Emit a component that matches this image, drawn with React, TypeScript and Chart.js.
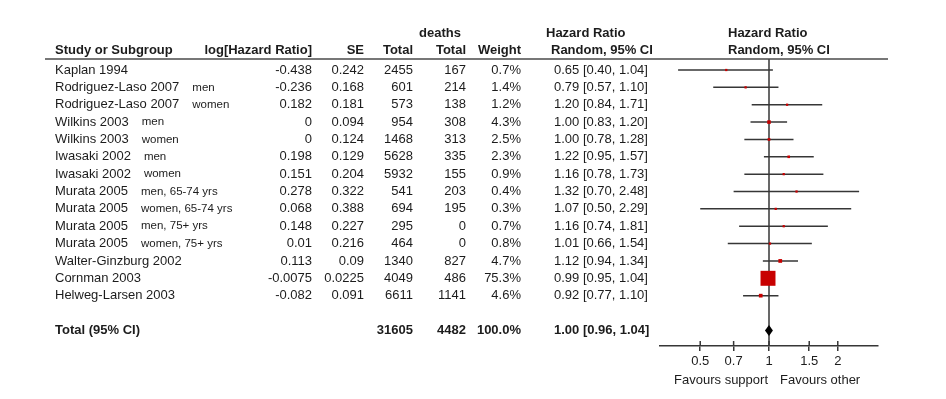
import React, { useEffect, useRef } from "react";
import { Chart, registerables } from "chart.js";

Chart.register(...registerables);

const studies = [
  "Kaplan 1994",
  "Rodriguez-Laso 2007",
  "Rodriguez-Laso 2007",
  "Wilkins 2003",
  "Wilkins 2003",
  "Iwasaki 2002",
  "Iwasaki 2002",
  "Murata 2005",
  "Murata 2005",
  "Murata 2005",
  "Murata 2005",
  "Walter-Ginzburg 2002",
  "Cornman 2003",
  "Helweg-Larsen 2003",
];
const subgroups = ["", "men", "women", "men", "women", "men", "women", "men, 65-74 yrs", "women, 65-74 yrs", "men, 75+ yrs", "women, 75+ yrs", "", "", ""];
const logHR = ["-0.438", "-0.236", "0.182", "0", "0", "0.198", "0.151", "0.278", "0.068", "0.148", "0.01", "0.113", "-0.0075", "-0.082"];
const seValues = ["0.242", "0.168", "0.181", "0.094", "0.124", "0.129", "0.204", "0.322", "0.388", "0.227", "0.216", "0.09", "0.0225", "0.091"];
const totals = [2455, 601, 573, 954, 1468, 5628, 5932, 541, 694, 295, 464, 1340, 4049, 6611];
const deaths = [167, 214, 138, 308, 313, 335, 155, 203, 195, 0, 0, 827, 486, 1141];
const weights = [0.7, 1.4, 1.2, 4.3, 2.5, 2.3, 0.9, 0.4, 0.3, 0.7, 0.8, 4.7, 75.3, 4.6];
const hr = [0.65, 0.79, 1.2, 1.0, 1.0, 1.22, 1.16, 1.32, 1.07, 1.16, 1.01, 1.12, 0.99, 0.92];
const ciLow = [0.4, 0.57, 0.84, 0.83, 0.78, 0.95, 0.78, 0.7, 0.5, 0.74, 0.66, 0.94, 0.95, 0.77];
const ciHigh = [1.04, 1.1, 1.71, 1.2, 1.28, 1.57, 1.73, 2.48, 2.29, 1.81, 1.54, 1.34, 1.04, 1.1];

const totalLabel = "Total (95% CI)";
const totalN = 31605;
const totalDeaths = 4482;
const totalWeight = 100.0;
const totalHR = 1.0;
const totalLow = 0.96;
const totalHigh = 1.04;
const totalRow = 15;

const xTicks = [0.5, 0.7, 1, 1.5, 2];
const xMin = 1 / 3;
const xMax = 3;
const favourLeft = "Favours support";
const favourRight = "Favours other";

const FONT = '"Liberation Sans", Arial, Helvetica, sans-serif';
const TEXT = "#1c1c1c";
const LINE = "#363636";
const RED = "#c80000";

const fmt2 = (v: number) => v.toFixed(2);
const hrText = (e: number, l: number, h: number) => `${fmt2(e)} [${fmt2(l)}, ${fmt2(h)}]`;

const forestPlugin = {
  id: "forestTable",
  beforeDatasetsDraw(chart: any) {
    const { ctx, chartArea, scales } = chart;
    const x1 = scales.x.getPixelForValue(1);
    ctx.save();
    ctx.strokeStyle = LINE;
    ctx.lineWidth = 1.5;
    ctx.beginPath();
    ctx.moveTo(x1, chartArea.top);
    ctx.lineTo(x1, chartArea.bottom);
    ctx.stroke();
    ctx.restore();
  },
  afterDraw(chart: any) {
    const { ctx, chartArea, scales } = chart;
    const xs = scales.x;
    const ys = scales.y;
    ctx.save();
    ctx.fillStyle = TEXT;
    ctx.textBaseline = "middle";

    // header
    ctx.font = `bold 13px ${FONT}`;
    ctx.textAlign = "left";
    ctx.fillText("deaths", 419, 33);
    ctx.fillText("Hazard Ratio", 546, 33);
    ctx.fillText("Random, 95% CI", 551, 50);
    ctx.fillText("Hazard Ratio", 728, 33);
    ctx.fillText("Random, 95% CI", 728, 50);
    ctx.fillText("Study or Subgroup", 55, 50);
    ctx.textAlign = "right";
    ctx.fillText("log[Hazard Ratio]", 312, 50);
    ctx.fillText("SE", 364, 50);
    ctx.fillText("Total", 413, 50);
    ctx.fillText("Total", 466, 50);
    ctx.fillText("Weight", 521, 50);

    // header rule
    ctx.strokeStyle = "#4a4a4a";
    ctx.lineWidth = 1.5;
    ctx.beginPath();
    ctx.moveTo(45, chartArea.top);
    ctx.lineTo(888, chartArea.top);
    ctx.stroke();

    // rows
    studies.forEach((name, i) => {
      const y = ys.getPixelForValue(i);
      ctx.font = `13px ${FONT}`;
      ctx.textAlign = "left";
      ctx.fillText(name, 55, y);
      const w = ctx.measureText(name).width;
      ctx.fillText(hrText(hr[i], ciLow[i], ciHigh[i]), 554, y);
      ctx.textAlign = "right";
      ctx.fillText(logHR[i], 312, y);
      ctx.fillText(seValues[i], 364, y);
      ctx.fillText(String(totals[i]), 413, y);
      ctx.fillText(String(deaths[i]), 466, y);
      ctx.fillText(weights[i].toFixed(1) + "%", 521, y);
      if (subgroups[i]) {
        ctx.font = `11.5px ${FONT}`;
        ctx.textAlign = "left";
        ctx.fillText(subgroups[i], 55 + w + 13, y);
      }
    });

    // total row
    const yt = ys.getPixelForValue(totalRow);
    ctx.font = `bold 13px ${FONT}`;
    ctx.textAlign = "left";
    ctx.fillText(totalLabel, 55, yt);
    ctx.fillText(hrText(totalHR, totalLow, totalHigh), 554, yt);
    ctx.textAlign = "right";
    ctx.fillText(String(totalN), 413, yt);
    ctx.fillText(String(totalDeaths), 466, yt);
    ctx.fillText(totalWeight.toFixed(1) + "%", 521, yt);

    // diamond
    const xl = xs.getPixelForValue(totalLow);
    const xh = xs.getPixelForValue(totalHigh);
    const xe = xs.getPixelForValue(totalHR);
    ctx.fillStyle = "#000";
    ctx.beginPath();
    ctx.moveTo(xl, yt);
    ctx.lineTo(xe, yt - 5.5);
    ctx.lineTo(xh, yt);
    ctx.lineTo(xe, yt + 5.5);
    ctx.closePath();
    ctx.fill();

    // upper halves of axis ticks
    ctx.strokeStyle = LINE;
    ctx.lineWidth = 1.5;
    xTicks.forEach((v) => {
      const px = xs.getPixelForValue(v);
      ctx.beginPath();
      ctx.moveTo(px, chartArea.bottom - 5);
      ctx.lineTo(px, chartArea.bottom);
      ctx.stroke();
    });

    // favours labels
    const x1 = xs.getPixelForValue(1);
    ctx.fillStyle = TEXT;
    ctx.font = `13px ${FONT}`;
    ctx.textAlign = "right";
    ctx.fillText(favourLeft, x1 - 1, 380);
    ctx.textAlign = "left";
    ctx.fillText(favourRight, x1 + 11, 380);
    ctx.restore();
  },
};

export default function App() {
  const ref = useRef<HTMLCanvasElement | null>(null);

  useEffect(() => {
    if (!ref.current) return;
    const ciSets = studies.map((_, i) => ({
      type: "scatter" as const,
      showLine: true,
      data: [
        { x: ciLow[i], y: i },
        { x: ciHigh[i], y: i },
      ],
      borderColor: LINE,
      borderWidth: 1.5,
      pointRadius: 0,
      order: 2,
    }));
    const pointSet = {
      type: "scatter" as const,
      data: hr.map((v, i) => ({ x: v, y: i })),
      pointStyle: "rect",
      pointRadius: weights.map((w) => Math.max(1.6, Math.sqrt(w) * 1.22)),
      pointBackgroundColor: RED,
      pointBorderWidth: 0,
      borderWidth: 0,
      showLine: false,
      order: 0,
    };
    const chart = new Chart(ref.current, {
      type: "scatter",
      data: { datasets: [pointSet as any, ...ciSets] },
      plugins: [forestPlugin],
      options: {
        animation: false,
        responsive: false,
        events: [],
        layout: { padding: { left: 660, right: 68, top: 59, bottom: 29 } },
        plugins: { legend: { display: false }, tooltip: { enabled: false } },
        scales: {
          x: {
            type: "logarithmic",
            min: xMin,
            max: xMax,
            bounds: "data",
            position: "bottom",
            border: { display: true, color: LINE, width: 1.5 },
            grid: { display: true, drawOnChartArea: false, drawTicks: true, tickLength: 5, color: LINE, lineWidth: 1.5 },
            ticks: {
              autoSkip: false,
              maxRotation: 0,
              padding: 3,
              color: TEXT,
              font: { size: 13, family: FONT },
              callback: (v: any) => String(v),
            },
            afterBuildTicks: (s: any) => {
              s.ticks = xTicks.map((v) => ({ value: v }));
            },
            afterFit: (s: any) => {
              s.height = 24;
            },
          },
          y: {
            type: "linear",
            reverse: true,
            min: -0.634,
            max: 15.9,
            display: false,
          },
        },
      },
    });
    return () => chart.destroy();
  }, []);

  return (
    <div style={{ position: "absolute", left: 0, top: 0, width: 946, height: 399, background: "#fff" }}>
      <canvas ref={ref} width={946} height={399} style={{ display: "block" }} />
    </div>
  );
}
